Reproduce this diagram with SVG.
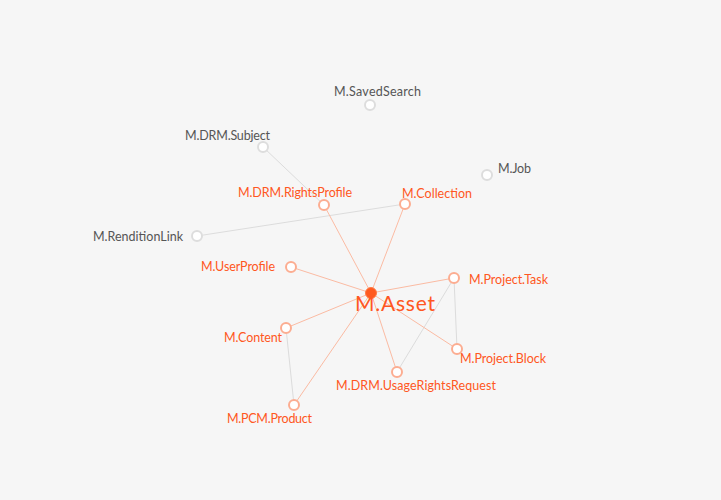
<svg xmlns="http://www.w3.org/2000/svg" width="721" height="500" viewBox="0 0 721 500">
<style>
.bg{fill:#f6f6f6}
.eo{stroke:#fbbba3;stroke-width:1;fill:none}
.eg{stroke:#dcdcdc;stroke-width:1;fill:none}
.no{fill:#ffffff;stroke:#fcad91;stroke-width:2}
.ng{fill:#ffffff;stroke:#dddddd;stroke-width:2}
.main{fill:#ff5a1f;stroke:#ff7a45;stroke-width:1}
text{font-family:Lato,"Open Sans","Liberation Sans",sans-serif;font-size:12.5px}
.to{fill:#ff5722}
.tg{fill:#555555}
.tm{fill:#ff5722;font-size:21px}
</style>
<rect class="bg" x="0" y="0" width="721" height="500"/>
<g id="connectors">
<line class="eg" x1="263" y1="147" x2="324" y2="205"/>
<line class="eg" x1="197" y1="236" x2="405" y2="204"/>
<line class="eg" x1="286" y1="328" x2="294" y2="405"/>
<line class="eg" x1="454" y1="278" x2="397" y2="372"/>
<line class="eg" x1="454" y1="278" x2="457" y2="349"/>
<line class="eo" x1="371" y1="293" x2="324" y2="205"/>
<line class="eo" x1="371" y1="293" x2="405" y2="204"/>
<line class="eo" x1="371" y1="293" x2="291" y2="267"/>
<line class="eo" x1="371" y1="293" x2="454" y2="278"/>
<line class="eo" x1="371" y1="293" x2="286" y2="328"/>
<line class="eo" x1="371" y1="293" x2="294" y2="405"/>
<line class="eo" x1="371" y1="293" x2="397" y2="372"/>
<line class="eo" x1="371" y1="293" x2="457" y2="349"/>
</g>
<g id="n-savedsearch"><circle class="ng" cx="370" cy="105" r="5"/><text class="tg" x="334" y="96" textLength="87">M.SavedSearch</text></g>
<g id="n-drmsubject"><circle class="ng" cx="263" cy="147" r="5"/><text class="tg" x="185" y="140" textLength="85">M.DRM.Subject</text></g>
<g id="n-job"><circle class="ng" cx="487" cy="175" r="5"/><text class="tg" x="498" y="173" textLength="33">M.Job</text></g>
<g id="n-rightsprofile"><circle class="no" cx="324" cy="205" r="5"/><text class="to" x="238" y="197" textLength="114">M.DRM.RightsProfile</text></g>
<g id="n-collection"><circle class="no" cx="405" cy="204" r="5"/><text class="to" x="402" y="198" textLength="70">M.Collection</text></g>
<g id="n-renditionlink"><circle class="ng" cx="197" cy="236" r="5"/><text class="tg" x="93" y="241" textLength="90">M.RenditionLink</text></g>
<g id="n-userprofile"><circle class="no" cx="291" cy="267" r="5"/><text class="to" x="201" y="271" textLength="74">M.UserProfile</text></g>
<g id="n-projecttask"><circle class="no" cx="454" cy="278" r="5"/><text class="to" x="469" y="284" textLength="79">M.Project.Task</text></g>
<g id="n-content"><circle class="no" cx="286" cy="328" r="5"/><text class="to" x="224" y="342" textLength="58">M.Content</text></g>
<g id="n-projectblock"><circle class="no" cx="457" cy="349" r="5"/><text class="to" x="460" y="363" textLength="86">M.Project.Block</text></g>
<g id="n-usagerights"><circle class="no" cx="397" cy="372" r="5"/><text class="to" x="336" y="390" textLength="160">M.DRM.UsageRightsRequest</text></g>
<g id="n-pcmproduct"><circle class="no" cx="294" cy="405" r="5"/><text class="to" x="227" y="423" textLength="85">M.PCM.Product</text></g>
<g id="n-asset"><circle class="main" cx="371" cy="293" r="5.5"/><text class="tm" x="355" y="311" textLength="80">M.Asset</text></g>
</svg>
